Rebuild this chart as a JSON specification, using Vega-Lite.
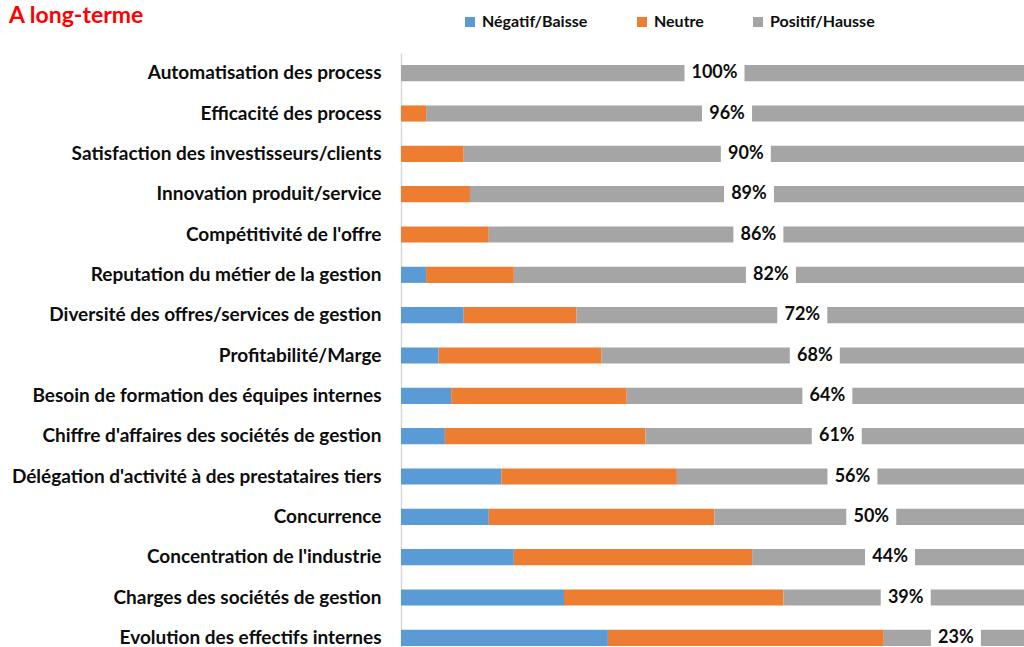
{
  "$schema": "https://vega.github.io/schema/vega-lite/v6.json",
  "width": 623,
  "height": 594,
  "autosize": {"type": "none"},
  "padding": {"left": 401, "top": 53, "right": 0, "bottom": 0},
  "background": "white",
  "title": {"text": "A long-terme", "anchor": "start", "frame": "group", "dx": -392, "dy": 18, "color": "#FF0000", "font": "Lato", "fontSize": 23, "fontWeight": "bold"},
  "config": {"view": {"stroke": null}, "font": "Lato"},
  "data": {"values": [
    {"cat": "Automatisation des process", "serie": "Négatif/Baisse", "ordre": 1, "v": 0},
    {"cat": "Automatisation des process", "serie": "Neutre", "ordre": 2, "v": 0},
    {"cat": "Automatisation des process", "serie": "Positif/Hausse", "ordre": 3, "v": 1.0},
    {"cat": "Efficacité des process", "serie": "Négatif/Baisse", "ordre": 1, "v": 0},
    {"cat": "Efficacité des process", "serie": "Neutre", "ordre": 2, "v": 0.04},
    {"cat": "Efficacité des process", "serie": "Positif/Hausse", "ordre": 3, "v": 0.96},
    {"cat": "Satisfaction des investisseurs/clients", "serie": "Négatif/Baisse", "ordre": 1, "v": 0},
    {"cat": "Satisfaction des investisseurs/clients", "serie": "Neutre", "ordre": 2, "v": 0.10},
    {"cat": "Satisfaction des investisseurs/clients", "serie": "Positif/Hausse", "ordre": 3, "v": 0.90},
    {"cat": "Innovation produit/service", "serie": "Négatif/Baisse", "ordre": 1, "v": 0},
    {"cat": "Innovation produit/service", "serie": "Neutre", "ordre": 2, "v": 0.11},
    {"cat": "Innovation produit/service", "serie": "Positif/Hausse", "ordre": 3, "v": 0.89},
    {"cat": "Compétitivité de l'offre", "serie": "Négatif/Baisse", "ordre": 1, "v": 0},
    {"cat": "Compétitivité de l'offre", "serie": "Neutre", "ordre": 2, "v": 0.14},
    {"cat": "Compétitivité de l'offre", "serie": "Positif/Hausse", "ordre": 3, "v": 0.86},
    {"cat": "Reputation du métier de la gestion", "serie": "Négatif/Baisse", "ordre": 1, "v": 0.04},
    {"cat": "Reputation du métier de la gestion", "serie": "Neutre", "ordre": 2, "v": 0.14},
    {"cat": "Reputation du métier de la gestion", "serie": "Positif/Hausse", "ordre": 3, "v": 0.82},
    {"cat": "Diversité des offres/services de gestion", "serie": "Négatif/Baisse", "ordre": 1, "v": 0.10},
    {"cat": "Diversité des offres/services de gestion", "serie": "Neutre", "ordre": 2, "v": 0.18},
    {"cat": "Diversité des offres/services de gestion", "serie": "Positif/Hausse", "ordre": 3, "v": 0.72},
    {"cat": "Profitabilité/Marge", "serie": "Négatif/Baisse", "ordre": 1, "v": 0.06},
    {"cat": "Profitabilité/Marge", "serie": "Neutre", "ordre": 2, "v": 0.26},
    {"cat": "Profitabilité/Marge", "serie": "Positif/Hausse", "ordre": 3, "v": 0.68},
    {"cat": "Besoin de formation des équipes internes", "serie": "Négatif/Baisse", "ordre": 1, "v": 0.08},
    {"cat": "Besoin de formation des équipes internes", "serie": "Neutre", "ordre": 2, "v": 0.28},
    {"cat": "Besoin de formation des équipes internes", "serie": "Positif/Hausse", "ordre": 3, "v": 0.64},
    {"cat": "Chiffre d'affaires des sociétés de gestion", "serie": "Négatif/Baisse", "ordre": 1, "v": 0.07},
    {"cat": "Chiffre d'affaires des sociétés de gestion", "serie": "Neutre", "ordre": 2, "v": 0.32},
    {"cat": "Chiffre d'affaires des sociétés de gestion", "serie": "Positif/Hausse", "ordre": 3, "v": 0.61},
    {"cat": "Délégation d'activité à des prestataires tiers", "serie": "Négatif/Baisse", "ordre": 1, "v": 0.16},
    {"cat": "Délégation d'activité à des prestataires tiers", "serie": "Neutre", "ordre": 2, "v": 0.28},
    {"cat": "Délégation d'activité à des prestataires tiers", "serie": "Positif/Hausse", "ordre": 3, "v": 0.56},
    {"cat": "Concurrence", "serie": "Négatif/Baisse", "ordre": 1, "v": 0.14},
    {"cat": "Concurrence", "serie": "Neutre", "ordre": 2, "v": 0.36},
    {"cat": "Concurrence", "serie": "Positif/Hausse", "ordre": 3, "v": 0.50},
    {"cat": "Concentration de l'industrie", "serie": "Négatif/Baisse", "ordre": 1, "v": 0.18},
    {"cat": "Concentration de l'industrie", "serie": "Neutre", "ordre": 2, "v": 0.38},
    {"cat": "Concentration de l'industrie", "serie": "Positif/Hausse", "ordre": 3, "v": 0.44},
    {"cat": "Charges des sociétés de gestion", "serie": "Négatif/Baisse", "ordre": 1, "v": 0.26},
    {"cat": "Charges des sociétés de gestion", "serie": "Neutre", "ordre": 2, "v": 0.35},
    {"cat": "Charges des sociétés de gestion", "serie": "Positif/Hausse", "ordre": 3, "v": 0.39},
    {"cat": "Evolution des effectifs internes", "serie": "Négatif/Baisse", "ordre": 1, "v": 0.33},
    {"cat": "Evolution des effectifs internes", "serie": "Neutre", "ordre": 2, "v": 0.44},
    {"cat": "Evolution des effectifs internes", "serie": "Positif/Hausse", "ordre": 3, "v": 0.23}
  ]},
  "encoding": {
    "y": {
      "field": "cat", "type": "nominal", "sort": null,
      "scale": {"paddingInner": 0.6, "paddingOuter": 0.3, "rangeMax": 605},
      "axis": {"title": null, "ticks": false, "labelPadding": 20, "labelFont": "Lato", "labelFontSize": 19, "labelFontWeight": "bold", "labelColor": "#0D0D0D", "labelLimit": 420, "domainColor": "#D9D9D9", "domainWidth": 1.5}
    }
  },
  "layer": [
    {
      "mark": {"type": "bar"},
      "encoding": {
        "x": {"field": "v", "type": "quantitative", "stack": "zero", "scale": {"domain": [0, 1], "nice": false, "rangeMax": 627}, "axis": null},
        "color": {
          "field": "serie", "type": "nominal",
          "scale": {"domain": ["Négatif/Baisse", "Neutre", "Positif/Hausse"], "range": ["#5B9BD5", "#ED7D31", "#A5A5A5"]},
          "legend": {"orient": "none", "legendX": 61, "legendY": -39, "direction": "horizontal", "title": null, "symbolType": "square", "symbolSize": 100, "symbolStrokeWidth": 0, "labelFont": "Lato", "labelFontSize": 16, "labelFontWeight": "bold", "labelColor": "#0D0D0D", "columnPadding": 46, "labelOffset": 4}
        },
        "order": {"field": "ordre", "type": "quantitative"}
      }
    },
    {
      "mark": {"type": "tick", "color": "white", "thickness": 50, "size": 22, "opacity": 1},
      "encoding": {
        "x": {"field": "v", "type": "quantitative", "stack": "zero", "bandPosition": 0.5},
        "detail": {"field": "serie", "type": "nominal"},
        "order": {"field": "ordre", "type": "quantitative"},
        "opacity": {"condition": {"test": "datum.serie === 'Positif/Hausse'", "value": 1}, "value": 0}
      }
    },
    {
      "transform": [{"filter": "datum.serie === 'Positif/Hausse' && datum.v >= 1"}],
      "mark": {"type": "tick", "color": "white", "thickness": 60, "size": 22, "opacity": 1},
      "encoding": {
        "x": {"field": "v", "type": "quantitative", "stack": "zero", "bandPosition": 0.5},
        "detail": {"field": "serie", "type": "nominal"}
      }
    },
    {
      "mark": {"type": "text", "fill": "#0D0D0D", "font": "Lato", "fontWeight": "bold", "fontSize": 18},
      "encoding": {
        "x": {"field": "v", "type": "quantitative", "stack": "zero", "bandPosition": 0.5},
        "detail": {"field": "serie", "type": "nominal"},
        "order": {"field": "ordre", "type": "quantitative"},
        "text": {"condition": {"test": "datum.serie !== 'Positif/Hausse'", "value": ""}, "field": "v", "type": "quantitative", "format": ".0%"}
      }
    }
  ]
}
